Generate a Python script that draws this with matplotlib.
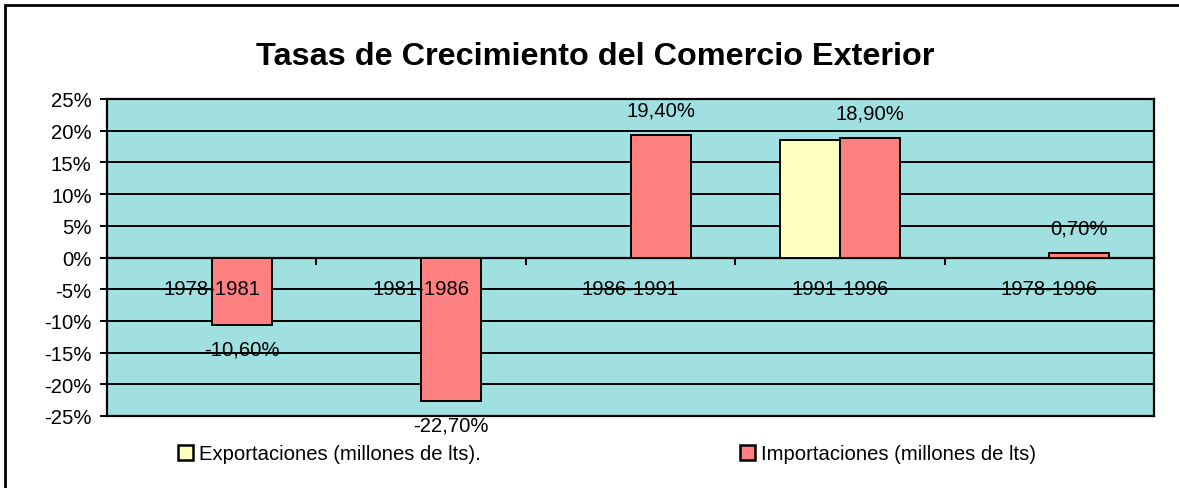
"""Tasas de crecimiento del comercio exterior (Excel-style column chart)."""
import numpy as np
import matplotlib
matplotlib.use("Agg")
import matplotlib.pyplot as plt
from matplotlib.patches import Rectangle, Patch

PERIODS = ["1978-1981", "1981-1986", "1986-1991", "1991-1996", "1978-1996"]
EXPORTS = [np.nan, np.nan, np.nan, 18.5, np.nan]
IMPORTS = [-10.6, -22.7, 19.4, 18.9, 0.7]
SERIES_NAMES = ["Exportaciones (millones de lts).", "Importaciones (millones de lts)"]
TITLE = "Tasas de Crecimiento del Comercio Exterior"
YTICKS = [25, 20, 15, 10, 5, 0, -5, -10, -15, -20, -25]

PLOT_BG = "#A0E0E0"
EXP_COLOR = "#FFFFC0"
IMP_COLOR = "#FF8080"
FS = 14.6

plt.rcParams["font.family"] = ["Liberation Sans", "DejaVu Sans"]

W, H = 1179, 489
fig = plt.figure(figsize=(W / 100, H / 100), dpi=100)
ax = fig.add_axes([107 / W, 1 - 417 / H, (1154 - 107) / W, (417 - 100) / H])
ax.set_facecolor(PLOT_BG)

x = np.arange(len(PERIODS))
bw = 0.287
ax.bar(x - bw / 2, np.array(EXPORTS, dtype=float), bw, color=EXP_COLOR,
       edgecolor="black", linewidth=1.4, zorder=3)
bars = ax.bar(x + bw / 2, IMPORTS, bw, color=IMP_COLOR,
              edgecolor="black", linewidth=1.4, zorder=3)

for rect, v in zip(bars, IMPORTS):
    off = 25 if v >= 0 else -24
    ax.annotate(f"{v:.2f}%".replace(".", ","),
                (rect.get_x() + rect.get_width() / 2, v),
                xytext=(0, off), textcoords="offset pixels",
                ha="center", va="center", fontsize=FS, zorder=4)

# category labels sit below the zero line, drawn over the bars
for i, p in enumerate(PERIODS):
    ax.annotate(p, (i, 0), xytext=(0, -31), textcoords="offset pixels",
                ha="center", va="center", fontsize=FS, zorder=6)

ax.set_xlim(-0.5, len(PERIODS) - 0.5)
ax.set_ylim(-25, 25)
ax.set_yticks(YTICKS)
ax.set_yticklabels([f"{t}%" for t in YTICKS])
ax.yaxis.grid(True, color="black", linewidth=1.4, zorder=1)
ax.set_axisbelow(True)
ax.tick_params(axis="y", direction="out", length=5, width=1.4, pad=6,
               labelsize=FS)

# category axis on the zero line
ax.spines["bottom"].set_position(("data", 0))
for s in ax.spines.values():
    s.set_linewidth(1.6)
ax.set_xticks(np.arange(len(PERIODS) + 1) - 0.5)
ax.set_xticklabels([])
ax.tick_params(axis="x", direction="out", length=5, width=1.4)
ax.axhline(-25, color="black", linewidth=1.6, clip_on=False, zorder=5)

fig.text(0.505, 1 - 57 / H, TITLE, ha="center", va="center",
         fontsize=23.3, fontweight="bold")

handles = [Patch(facecolor=EXP_COLOR, edgecolor="black", linewidth=1.8),
           Patch(facecolor=IMP_COLOR, edgecolor="black", linewidth=1.8)]
fig.legend(handles, SERIES_NAMES, loc="center left",
           bbox_to_anchor=(178 / W, 1 - 455 / H), ncol=2, frameon=False,
           fontsize=FS, handlelength=0.74, handleheight=0.74,
           handletextpad=0.3, columnspacing=12.8, borderpad=0,
           borderaxespad=0)

# outer chart border (cut off at right and bottom in the original)
fig.add_artist(Rectangle((5 / W, -0.05), 1.1, 1 - 6 / H + 0.05,
                         transform=fig.transFigure, fill=False,
                         edgecolor="black", linewidth=2, zorder=10))

fig.savefig("out.png", dpi=100, facecolor="white")
